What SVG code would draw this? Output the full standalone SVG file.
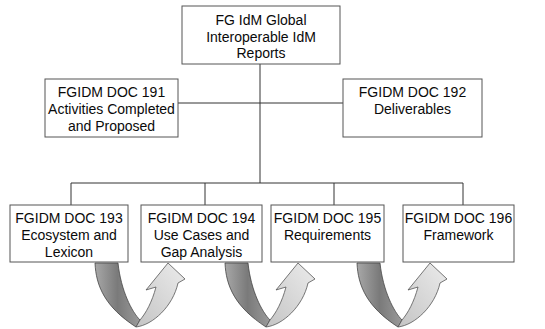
<svg xmlns="http://www.w3.org/2000/svg" xmlns:xlink="http://www.w3.org/1999/xlink" width="545" height="329" viewBox="0 0 545 329">
  <style>
    .box { fill: #ffffff; stroke: #555555; stroke-width: 1; }
    .lbl { font-family: "Liberation Sans", Arial, sans-serif; font-size: 14px; fill: #0a0a0a; text-anchor: middle; }
    .wire { stroke: #333333; stroke-width: 1; fill: none; }
    .turn-dark { fill: url(#darkShade); stroke: #444444; stroke-width: 0.8; }
    .turn-light { fill: url(#lightShade); stroke: #555555; stroke-width: 0.8; }
  </style>
  <defs>
    <linearGradient id="darkShade" x1="0" y1="0" x2="1" y2="0">
      <stop offset="0" stop-color="#a8a8a8"/>
      <stop offset="0.5" stop-color="#7a7a7a"/>
      <stop offset="1" stop-color="#9a9a9a"/>
    </linearGradient>
    <linearGradient id="lightShade" x1="0" y1="1" x2="1" y2="0">
      <stop offset="0" stop-color="#c4c4c4"/>
      <stop offset="1" stop-color="#ebebeb"/>
    </linearGradient>
    <!-- U-turn arrow; x=0 sits at the left edge of the box it points into -->
    <g id="uturn">
      <path class="turn-dark" d="M -46,263 C -45,286 -36,307 -5,327 L -1,320 C -9,312 -20,291 -23,263 Z"/>
      <path class="turn-light" d="M -5,327 C 12,325 32,306 37,283 L 44,279 L 27,263 L 5,290 L 15,287 C 11,302 5,313 -1,320 Z"/>
    </g>
  </defs>

  <g id="connectors">
    <line class="wire" x1="260" y1="64" x2="260" y2="183"/>
    <line class="wire" x1="178" y1="103" x2="343" y2="103"/>
    <line class="wire" x1="71" y1="183" x2="463" y2="183"/>
    <line class="wire" x1="71" y1="183" x2="71" y2="205"/>
    <line class="wire" x1="205" y1="183" x2="205" y2="205"/>
    <line class="wire" x1="334" y1="183" x2="334" y2="205"/>
    <line class="wire" x1="463" y1="183" x2="463" y2="205"/>
    <use xlink:href="#uturn" x="141"/>
    <use xlink:href="#uturn" x="271"/>
    <use xlink:href="#uturn" x="403"/>
  </g>

  <g id="root">
    <rect class="box" x="182" y="6" width="158" height="58"/>
    <text class="lbl" x="261" y="25">FG IdM Global</text>
    <text class="lbl" x="261" y="42">Interoperable IdM</text>
    <text class="lbl" x="261" y="58">Reports</text>
  </g>

  <g id="doc191">
    <rect class="box" x="45" y="79" width="133" height="58"/>
    <text class="lbl" x="111.5" y="97">FGIDM DOC 191</text>
    <text class="lbl" x="111.5" y="114">Activities Completed</text>
    <text class="lbl" x="111.5" y="131">and Proposed</text>
  </g>

  <g id="doc192">
    <rect class="box" x="343" y="79" width="139" height="58"/>
    <text class="lbl" x="412.5" y="97">FGIDM DOC 192</text>
    <text class="lbl" x="412.5" y="114">Deliverables</text>
  </g>

  <g id="doc193">
    <rect class="box" x="10" y="205" width="118" height="57"/>
    <text class="lbl" x="69" y="223">FGIDM DOC 193</text>
    <text class="lbl" x="69" y="240">Ecosystem and</text>
    <text class="lbl" x="69" y="257">Lexicon</text>
  </g>

  <g id="doc194">
    <rect class="box" x="141" y="205" width="121" height="57"/>
    <text class="lbl" x="201.5" y="223">FGIDM DOC 194</text>
    <text class="lbl" x="201.5" y="240">Use Cases and</text>
    <text class="lbl" x="201.5" y="257">Gap Analysis</text>
  </g>

  <g id="doc195">
    <rect class="box" x="271" y="205" width="113" height="57"/>
    <text class="lbl" x="327.5" y="223">FGIDM DOC 195</text>
    <text class="lbl" x="327.5" y="240">Requirements</text>
  </g>

  <g id="doc196">
    <rect class="box" x="403" y="205" width="111" height="57"/>
    <text class="lbl" x="458.5" y="223">FGIDM DOC 196</text>
    <text class="lbl" x="458.5" y="240">Framework</text>
  </g>
</svg>
